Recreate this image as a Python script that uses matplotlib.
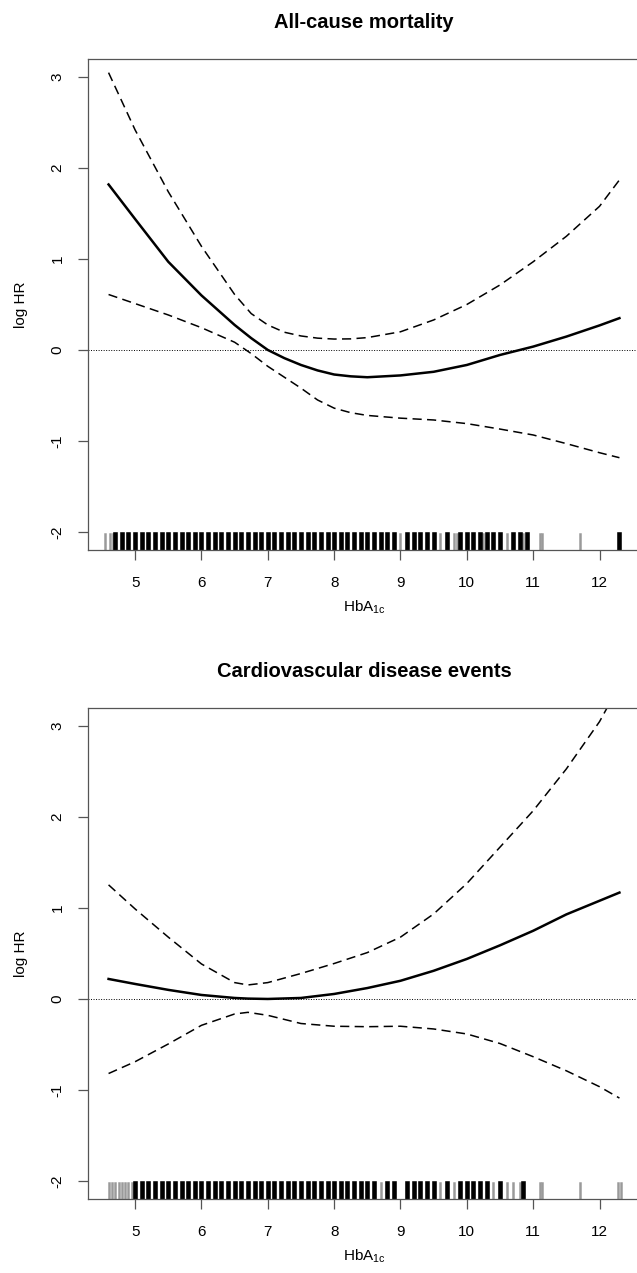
import numpy as np
import matplotlib.pyplot as plt

plt.rcParams['font.family'] = ['Liberation Sans', 'DejaVu Sans']

# ---- data ----
# panel 1: all-cause mortality
hba_1 = [4.6, 5.0, 5.5, 6.0, 6.5, 6.75, 7.0, 7.25, 7.5, 7.75, 8.0, 8.25, 8.5, 9.0, 9.5, 10.0, 10.5, 11.0, 11.5, 12.0, 12.3]
fit_1 = [1.82, 1.44, 0.97, 0.60, 0.275, 0.13, 0.0, -0.09, -0.165, -0.225, -0.27, -0.29, -0.30, -0.28, -0.24, -0.165, -0.055, 0.037, 0.147, 0.27, 0.35]
upper_1 = [3.05, 2.42, 1.74, 1.14, 0.61, 0.40, 0.275, 0.195, 0.154, 0.13, 0.12, 0.122, 0.136, 0.20, 0.33, 0.50, 0.715, 0.97, 1.25, 1.58, 1.87]
lower_1 = [0.61, 0.51, 0.385, 0.245, 0.085, -0.04, -0.18, -0.30, -0.42, -0.55, -0.64, -0.69, -0.72, -0.75, -0.77, -0.81, -0.87, -0.935, -1.03, -1.13, -1.185]

# panel 2: cardiovascular disease events
hba_2 = [4.6, 5.0, 5.5, 6.0, 6.5, 6.7, 7.0, 7.5, 8.0, 8.5, 9.0, 9.5, 10.0, 10.5, 11.0, 11.5, 12.0, 12.3]
fit_2 = [0.22, 0.165, 0.10, 0.044, 0.011, 0.004, 0.0, 0.011, 0.055, 0.12, 0.20, 0.31, 0.44, 0.59, 0.75, 0.93, 1.08, 1.17]
upper_2 = [1.255, 0.99, 0.68, 0.385, 0.18, 0.154, 0.18, 0.28, 0.39, 0.51, 0.68, 0.935, 1.27, 1.67, 2.07, 2.53, 3.05, 3.45]
lower_2 = [-0.82, -0.69, -0.495, -0.29, -0.165, -0.147, -0.18, -0.27, -0.30, -0.305, -0.30, -0.33, -0.385, -0.49, -0.635, -0.79, -0.965, -1.09]

# rug of observed HbA1c values (dark = many obs, light = few)
rug_dark_1 = [4.7, 4.8, 4.9, 5.0, 5.1, 5.2, 5.3, 5.4, 5.5, 5.6, 5.7, 5.8, 5.9, 6.0,
              6.1, 6.2, 6.3, 6.4, 6.5, 6.6, 6.7, 6.8, 6.9, 7.0, 7.1, 7.2, 7.3, 7.4,
              7.5, 7.6, 7.7, 7.8, 7.9, 8.0, 8.1, 8.2, 8.3, 8.4, 8.5, 8.6, 8.7, 8.8,
              8.9, 9.1, 9.2, 9.3, 9.4, 9.5, 9.7, 9.9, 10.0, 10.1, 10.2, 10.3, 10.4,
              10.5, 10.7, 10.8, 10.9, 12.3]
rug_light_1 = [4.55, 4.62, 4.66, 9.0, 9.6, 9.8, 9.85, 10.25, 10.6, 10.85, 11.1, 11.14, 11.7]

rug_dark_2 = [5.0, 5.1, 5.2, 5.3, 5.4, 5.5, 5.6, 5.7, 5.8, 5.9, 6.0, 6.1, 6.2, 6.3,
              6.4, 6.5, 6.6, 6.7, 6.8, 6.9, 7.0, 7.1, 7.2, 7.3, 7.4, 7.5, 7.6, 7.7,
              7.8, 7.9, 8.0, 8.1, 8.2, 8.3, 8.4, 8.5, 8.6, 8.8, 8.9, 9.1, 9.2, 9.3,
              9.4, 9.5, 9.7, 9.9, 10.0, 10.1, 10.2, 10.3, 10.5, 10.85]
rug_light_2 = [4.6, 4.65, 4.7, 4.75, 4.8, 4.85, 4.9, 4.95, 8.7, 9.6, 9.8, 10.4,
               10.6, 10.7, 10.8, 11.1, 11.13, 11.7, 12.28, 12.32]

titles = ["All-cause mortality", "Cardiovascular disease events"]
xticks = [5, 6, 7, 8, 9, 10, 11, 12]
yticks = [-2, -1, 0, 1, 2, 3]

W, H = 637, 1273
fig = plt.figure(figsize=(W / 100, H / 100), dpi=100)

spine_col = "#555555"
# axes boxes in pixels: left, top, right, bottom
boxes = [(88, 59, 640, 550), (88, 708, 640, 1199)]
panels = [
    (hba_1, fit_1, upper_1, lower_1, rug_dark_1, rug_light_1),
    (hba_2, fit_2, upper_2, lower_2, rug_dark_2, rug_light_2),
]

for (l, t, r, b), (x, fit, up, lo, rd, rl), title in zip(boxes, panels, titles):
    ax = fig.add_axes([l / W, 1 - b / H, (r - l) / W, (b - t) / H])
    ax.set_xlim(4.29, 12.61)
    ax.set_ylim(-2.2, 3.2)

    ax.axhline(0, color="black", lw=0.7, linestyle=(0, (1, 1.6)))
    ax.plot(x, fit, color="black", lw=1.8, solid_joinstyle="round")
    ax.plot(x, up, color="black", lw=1.1, linestyle=(0, (6, 3.5)))
    ax.plot(x, lo, color="black", lw=1.1, linestyle=(0, (6, 3.5)))

    # rug along the bottom
    for v in rl:
        ax.axvline(v, ymin=0, ymax=0.032, color="#9a9a9a", lw=1.8)
    for v in rd:
        ax.axvline(v, ymin=0, ymax=0.032, color="black", lw=3.3)

    for s in ax.spines.values():
        s.set_color(spine_col)
        s.set_linewidth(0.9)

    ax.set_xticks(xticks)
    ax.set_yticks(yticks)
    ax.set_xticklabels([str(v) for v in xticks])
    ax.set_yticklabels([str(v) for v in yticks], rotation=90, va="center")
    ax.tick_params(axis="both", length=7, width=0.9, color=spine_col,
                   labelsize=11, direction="out")
    ax.tick_params(axis="x", pad=12)
    ax.tick_params(axis="y", pad=10)

    ax.set_xlabel("HbA$_\\mathregular{1c}$", fontsize=11, labelpad=6)
    ax.set_ylabel("log HR", fontsize=11, labelpad=16)
    ax.set_title(title, fontsize=14.5, fontweight="bold", pad=22)

fig.savefig("out.png", dpi=100)
